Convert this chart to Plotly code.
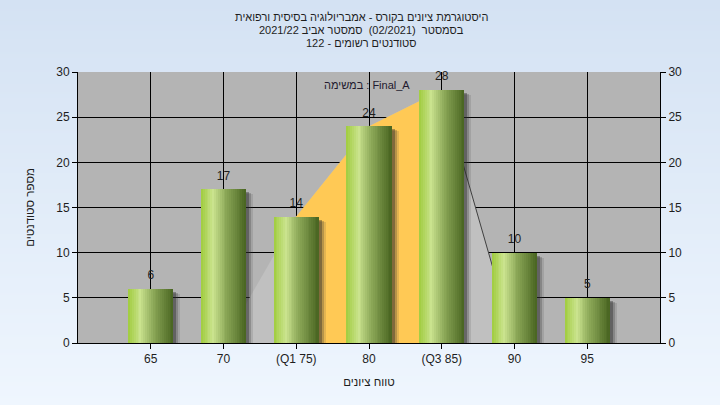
import base64
import struct
import zlib

import plotly.graph_objects as go

# ---------------- data ----------------
categories = ["65", "70", "(Q1 75)", "80", "(Q3 85)", "90", "95"]
counts = [6, 17, 14, 24, 28, 10, 5]

# distribution area drawn behind the bars
area_x = ["70", "(Q1 75)", "80", "(Q3 85)", "90"]
area_y = [0, 14, 24, 28, 0]
# inter-quartile part of the area (Q1 .. Q3)
iqr_x = ["(Q1 75)", "80", "(Q3 85)"]
iqr_y = [14, 24, 28]
# descending edge line
edge_x = ["(Q3 85)", "90"]
edge_y = [28, 0]

title_lines = [
    "היסטוגרמת ציונים בקורס - אמבריולוגיה בסיסית ורפואית",
    "בסמסטר  (02/2021)  סמסטר אביב 2021/22",
    "סטודנטים רשומים - 122",
]
task_label = "במשימה : Final_A"
x_title = "טווח ציונים"
y_title = "מספר סטודנטים"
y_range = [0, 30]
y_dtick = 5

# ---------------- layout geometry ----------------
W, H = 720, 405
ML, MR, MT, MB = 78, 60, 72, 62
PW, PH = W - ML - MR, H - MT - MB
FONT = "Liberation Sans, Arial, sans-serif"
TXT = "#1e1e1e"


def make_png_gradient(top, bottom, h):
    rows = b""
    for i in range(h):
        t = i / (h - 1)
        c = bytes(int(round(top[k] + (bottom[k] - top[k]) * t)) for k in range(3))
        rows += b"\x00" + c

    def chunk(tag, data):
        return (struct.pack(">I", len(data)) + tag + data
                + struct.pack(">I", zlib.crc32(tag + data) & 0xffffffff))
    png = b"\x89PNG\r\n\x1a\n"
    png += chunk(b"IHDR", struct.pack(">IIBBBBB", 1, h, 8, 2, 0, 0, 0))
    png += chunk(b"IDAT", zlib.compress(rows))
    png += chunk(b"IEND", b"")
    return "data:image/png;base64," + base64.b64encode(png).decode()


bg_src = make_png_gradient((212, 226, 243), (239, 246, 254), 200)


def lerp_color(stops, t):
    for (t0, c0), (t1, c1) in zip(stops, stops[1:]):
        if t0 <= t <= t1:
            f = (t - t0) / (t1 - t0) if t1 > t0 else 0
            return "rgb(%d,%d,%d)" % tuple(round(c0[k] + (c1[k] - c0[k]) * f) for k in range(3))
    return "rgb(%d,%d,%d)" % stops[-1][1]


grad_stops = [
    (0.0, (160, 204, 62)),
    (0.27, (202, 227, 142)),
    (0.55, (140, 168, 88)),
    (1.0, (72, 100, 32)),
]

fig = go.Figure()

# distribution area (main subplot, drawn under the bars)
fig.add_trace(go.Scatter(x=area_x, y=area_y, mode="lines", fill="tozeroy",
                         fillcolor="#c0c0c0", line=dict(width=0, color="#c0c0c0"),
                         hoverinfo="skip", showlegend=False))
fig.add_trace(go.Scatter(x=iqr_x, y=iqr_y, mode="lines", fill="tozeroy",
                         fillcolor="#ffc955", line=dict(width=0, color="#ffc955"),
                         hoverinfo="skip", showlegend=False))
fig.add_trace(go.Scatter(x=edge_x, y=edge_y, mode="lines",
                         line=dict(width=1, color="#404040"),
                         hoverinfo="skip", showlegend=False))

BW = 0.62
px_unit = 1.0 / (PW / (len(categories) + 1))

# soft shadows (overlay subplot y2, above the area)
for dx, dy, col in [(7, 5, "rgba(60,60,60,0.14)"), (5, 4, "rgba(50,50,50,0.25)"),
                    (3, 3, "rgba(40,40,40,0.38)")]:
    fig.add_trace(go.Bar(x=categories, y=[v - dy * 30 / PH for v in counts], yaxis="y2",
                         width=BW, offset=-BW / 2 + dx * px_unit,
                         marker=dict(color=col, line=dict(width=0)),
                         hoverinfo="skip", showlegend=False))

# gradient bars built from thin vertical stripes
N = 24
step = BW / N
for i in range(N):
    t = (i + 0.5) / N
    wdt = step * 1.15 if i < N - 1 else step
    fig.add_trace(go.Bar(x=categories, y=counts, yaxis="y2", width=wdt,
                         offset=-BW / 2 + i * step,
                         marker=dict(color=lerp_color(grad_stops, t), line=dict(width=0)),
                         hoverinfo="skip", showlegend=False))

# value labels
fig.add_trace(go.Scatter(x=categories, y=counts, yaxis="y2", mode="markers+text",
                         marker=dict(size=9, opacity=0), cliponaxis=False,
                         text=[str(v) for v in counts], textposition="top center",
                         textfont=dict(family=FONT, size=12, color=TXT),
                         hoverinfo="skip", showlegend=False))

axis_common = dict(showline=True, linecolor="black", linewidth=1, ticks="outside",
                   tickcolor="black", ticklen=5, tickfont=dict(family=FONT, size=12, color=TXT),
                   zeroline=False)

fig.update_layout(
    width=W, height=H,
    margin=dict(l=ML, r=MR, t=MT, b=MB),
    paper_bgcolor="#e3ecf8",
    plot_bgcolor="#b4b4b4",
    barmode="overlay",
    bargap=0,
    showlegend=False,
    xaxis=dict(type="category", categoryorder="array", categoryarray=categories,
               range=[-1, len(categories)], showgrid=True, gridcolor="black", gridwidth=1,
               title=dict(text=x_title, font=dict(family=FONT, size=11.5, color=TXT), standoff=12),
               **axis_common),
    yaxis=dict(range=y_range, dtick=y_dtick, showgrid=True, gridcolor="black", gridwidth=1,
               title=dict(text=y_title, font=dict(family=FONT, size=11.5, color=TXT), standoff=19),
               **axis_common),
    yaxis2=dict(range=y_range, dtick=y_dtick, overlaying="y", side="right", anchor="x",
                showgrid=False, **axis_common),
    images=[dict(source=bg_src, xref="paper", yref="paper", x=-ML / PW, y=1 + MT / PH,
                 sizex=W / PW, sizey=H / PH, sizing="stretch", xanchor="left", yanchor="top",
                 layer="below")],
    shapes=[dict(type="rect", xref="paper", yref="paper", x0=0, x1=1, y0=0, y1=1,
                 fillcolor="#b4b4b4", line=dict(width=0), layer="below")],
)

# title lines
title_y = [17, 30, 43]
for line, yy in zip(title_lines, title_y):
    fig.add_annotation(text=line, xref="paper", yref="paper",
                       x=(361 - ML) / PW, y=1 + (MT - yy) / PH,
                       showarrow=False, xanchor="center", yanchor="middle",
                       font=dict(family=FONT, size=11, color=TXT))

fig.add_annotation(text=task_label, xref="paper", yref="paper",
                   x=(367 - ML) / PW, y=(MT + PH - 85) / PH, showarrow=False,
                   xanchor="center", yanchor="middle",
                   font=dict(family=FONT, size=11, color="#221a2e"))

fig.write_html("out.html", config={"displayModeBar": False},
               post_script="document.body.style.margin='0';")
